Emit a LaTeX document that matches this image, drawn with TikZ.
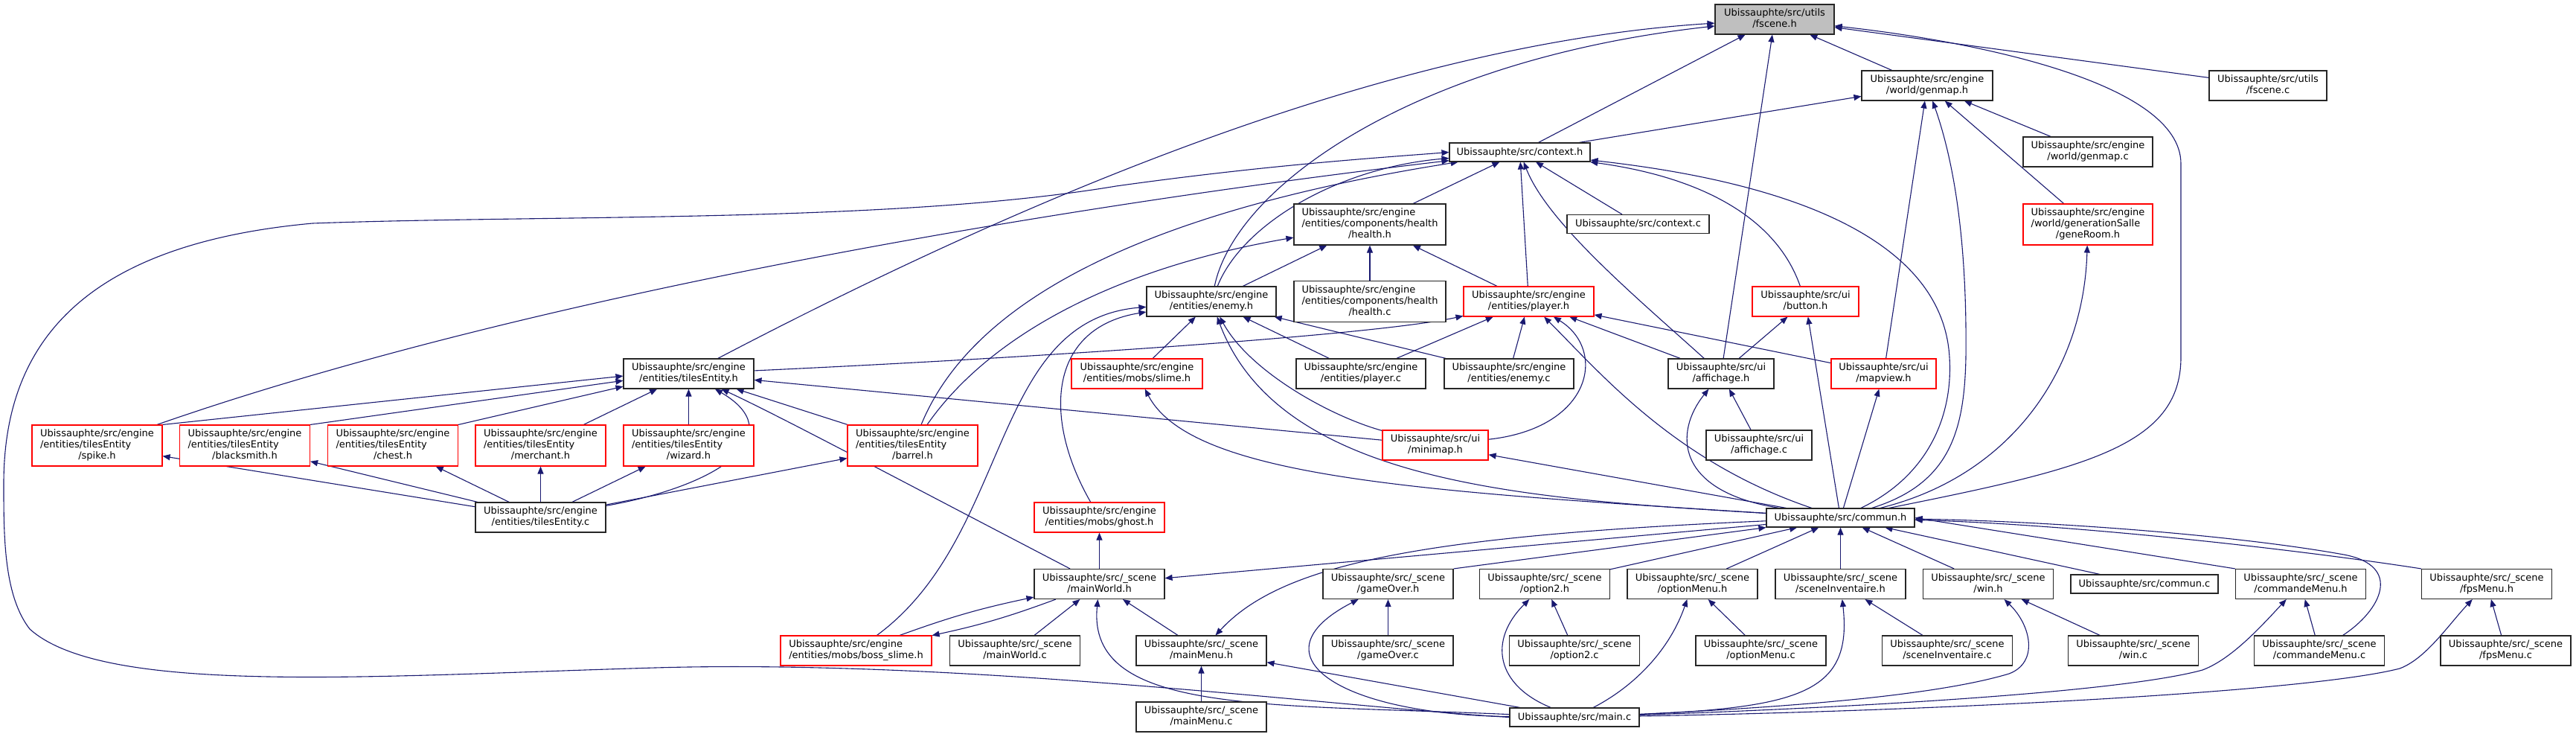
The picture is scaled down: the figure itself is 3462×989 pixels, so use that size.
\documentclass[tikz,border=0pt]{standalone}
\usepackage{fontspec}
\setmainfont{DejaVu Sans}
\usetikzlibrary{arrows.meta,backgrounds}
\definecolor{edgeblue}{HTML}{191970}
\definecolor{nodered}{HTML}{FF0000}
\definecolor{nodegrey}{HTML}{BFBFBF}
\newcommand{\dgfont}{\fontsize{13}{15}\selectfont}
\newcommand{\twol}[2]{\begin{tabular}{@{}l@{}}#1\\\multicolumn{1}{@{}c@{}}{#2}\end{tabular}}
\newcommand{\threel}[3]{\begin{tabular}{@{}l@{}}#1\\#2\\\multicolumn{1}{@{}c@{}}{#3}\end{tabular}}
\begin{document}
\begin{tikzpicture}[x=1pt,y=-1pt,
  nb/.style={draw=black!85, line width=1.1pt, fill=white, inner sep=0pt, font=\dgfont, minimum width=175, minimum height=40},
  nr/.style={nb, draw=nodered},
  ng/.style={nb, fill=nodegrey},
  dep/.style={draw=edgeblue, line width=1.1pt, -{Triangle[length=10pt,width=8pt]}}]
\path[use as bounding box] (0,0) rectangle (3462,989);
% nodes
\node[ng, minimum width=160] (fsh) at (2385,26) {\twol{Ubissauphte/src/utils}{/fscene.h}};
\node[nb, minimum width=176] (gmh) at (2590,115) {\twol{Ubissauphte/src/engine}{/world/genmap.h}};
\node[nb, minimum width=158] (fsc) at (3048,115) {\twol{Ubissauphte/src/utils}{/fscene.c}};
\node[nb, minimum width=189, minimum height=25] (ctx) at (2042.5,204.5) {Ubissauphte/src/context.h};
\node[nb, minimum width=174] (gmc) at (2806,204) {\twol{Ubissauphte/src/engine}{/world/genmap.c}};
\node[nb, minimum width=204, minimum height=55] (hlh) at (1841,301.5) {\threel{Ubissauphte/src/engine}{/entities/components/health}{/health.h}};
\node[nb, minimum width=191, minimum height=25] (ctc) at (2201.5,301) {Ubissauphte/src/context.c};
\node[nr, minimum width=174, minimum height=55] (grh) at (2806,301.5) {\threel{Ubissauphte/src/engine}{/world/generationSalle}{/geneRoom.h}};
\node[nb, minimum width=204, minimum height=55] (hlc) at (1841,405) {\threel{Ubissauphte/src/engine}{/entities/components/health}{/health.c}};
\node[nb, minimum width=174] (enh) at (1628,405) {\twol{Ubissauphte/src/engine}{/entities/enemy.h}};
\node[nr] (plh) at (2054.5,405) {\twol{Ubissauphte/src/engine}{/entities/player.h}};
\node[nr, minimum width=143] (bth) at (2426.5,405) {\twol{Ubissauphte/src/ui}{/button.h}};
\node[nb] (teh) at (925.5,502) {\twol{Ubissauphte/src/engine}{/entities/tilesEntity.h}};
\node[nr, minimum width=176] (slh) at (1528,502) {\twol{Ubissauphte/src/engine}{/entities/mobs/slime.h}};
\node[nb, minimum width=174] (plc) at (1829,502) {\twol{Ubissauphte/src/engine}{/entities/player.c}};
\node[nb, minimum width=174] (enc) at (2028,502) {\twol{Ubissauphte/src/engine}{/entities/enemy.c}};
\node[nb, minimum width=142] (afh) at (2313,502) {\twol{Ubissauphte/src/ui}{/affichage.h}};
\node[nr, minimum width=141] (mvh) at (2531.5,502) {\twol{Ubissauphte/src/ui}{/mapview.h}};
\node[nr, minimum height=55] (spk) at (130.5,598.5) {\threel{Ubissauphte/src/engine}{/entities/tilesEntity}{/spike.h}};
\node[nr, minimum height=55] (bsm) at (329,598.5) {\threel{Ubissauphte/src/engine}{/entities/tilesEntity}{/blacksmith.h}};
\node[nr, minimum height=55] (cht) at (528,598.5) {\threel{Ubissauphte/src/engine}{/entities/tilesEntity}{/chest.h}};
\node[nr, minimum height=55] (mer) at (726.5,598.5) {\threel{Ubissauphte/src/engine}{/entities/tilesEntity}{/merchant.h}};
\node[nr, minimum height=55] (wiz) at (925.5,598.5) {\threel{Ubissauphte/src/engine}{/entities/tilesEntity}{/wizard.h}};
\node[nr, minimum height=55] (brl) at (1226.5,598.5) {\threel{Ubissauphte/src/engine}{/entities/tilesEntity}{/barrel.h}};
\node[nr, minimum width=142] (mmh) at (1929,598) {\twol{Ubissauphte/src/ui}{/minimap.h}};
\node[nb, minimum width=142] (afc) at (2364,598) {\twol{Ubissauphte/src/ui}{/affichage.c}};
\node[nb] (tec) at (726.5,695) {\twol{Ubissauphte/src/engine}{/entities/tilesEntity.c}};
\node[nr] (ghh) at (1477.5,695) {\twol{Ubissauphte/src/engine}{/entities/mobs/ghost.h}};
\node[nb, minimum width=199, minimum height=25] (cmh) at (2473.5,695.5) {Ubissauphte/src/commun.h};
\node[nb] (mwh) at (1477.5,784.5) {\twol{Ubissauphte/src/\_scene}{/mainWorld.h}};
\node[nb] (goh) at (1865.5,784.5) {\twol{Ubissauphte/src/\_scene}{/gameOver.h}};
\node[nb] (o2h) at (2076,784.5) {\twol{Ubissauphte/src/\_scene}{/option2.h}};
\node[nb] (omh) at (2274.5,784.5) {\twol{Ubissauphte/src/\_scene}{/optionMenu.h}};
\node[nb] (sih) at (2473.5,784.5) {\twol{Ubissauphte/src/\_scene}{/sceneInventaire.h}};
\node[nb] (wnh) at (2672,784.5) {\twol{Ubissauphte/src/\_scene}{/win.h}};
\node[nb, minimum width=198, minimum height=25] (cmc) at (2882,784.5) {Ubissauphte/src/commun.c};
\node[nb] (cdh) at (3092,784.5) {\twol{Ubissauphte/src/\_scene}{/commandeMenu.h}};
\node[nb] (fph) at (3342,784.5) {\twol{Ubissauphte/src/\_scene}{/fpsMenu.h}};
\node[nr, minimum width=203] (bsl) at (1150.5,874) {\twol{Ubissauphte/src/engine}{/entities/mobs/boss\_slime.h}};
\node[nb] (mwc) at (1364,874) {\twol{Ubissauphte/src/\_scene}{/mainWorld.c}};
\node[nb] (mnh) at (1614.5,874) {\twol{Ubissauphte/src/\_scene}{/mainMenu.h}};
\node[nb] (goc) at (1865.5,874) {\twol{Ubissauphte/src/\_scene}{/gameOver.c}};
\node[nb] (o2c) at (2116,874) {\twol{Ubissauphte/src/\_scene}{/option2.c}};
\node[nb] (omc) at (2366.5,874) {\twol{Ubissauphte/src/\_scene}{/optionMenu.c}};
\node[nb] (sic) at (2617,874) {\twol{Ubissauphte/src/\_scene}{/sceneInventaire.c}};
\node[nb] (wnc) at (2867,874) {\twol{Ubissauphte/src/\_scene}{/win.c}};
\node[nb] (cdc) at (3117,874) {\twol{Ubissauphte/src/\_scene}{/commandeMenu.c}};
\node[nb] (fpc) at (3367.5,874) {\twol{Ubissauphte/src/\_scene}{/fpsMenu.c}};
\node[nb] (mnc) at (1614.5,963) {\twol{Ubissauphte/src/\_scene}{/mainMenu.c}};
\node[nb, minimum width=174, minimum height=25] (mainc) at (2116,963.5) {Ubissauphte/src/main.c};
\begin{scope}[on background layer]
\fill[white] (0,0) rectangle (3462,989);
% edges to fscene.h
\draw[dep] (teh) .. controls (1350,280) and (1850,60) .. (fsh);
\draw[dep] (enh) .. controls (1660,250) and (1900,80) .. (fsh);
\draw[dep] (ctx) -- (fsh);
\draw[dep] (afh) -- (fsh);
\draw[dep] (gmh) -- (fsh);
\draw[dep] (fsc) -- (fsh);
\draw[dep] (cmh) .. controls (2800,630) and (2931,600) .. (2931,480) -- (2931,220) .. controls (2931,110) and (2650,55) .. (fsh);
% genmap.h
\draw[dep] (ctx) -- (gmh);
\draw[dep] (gmc) -- (gmh);
\draw[dep] (grh) -- (gmh);
\draw[dep] (mvh) -- (gmh);
\draw[dep] (cmh) .. controls (2620,650) and (2640,580) .. (2642,480) .. controls (2644,300) and (2620,200) .. (gmh);
% context.h
\draw[dep] (hlh) -- (ctx);
\draw[dep] (plh) -- (ctx);
\draw[dep] (ctc) -- (ctx);
\draw[dep] (afh) .. controls (2200,400) and (2080,300) .. (ctx);
\draw[dep] (bth) .. controls (2390,300) and (2300,240) .. (ctx);
\draw[dep] (cmh) .. controls (2590,640) and (2625,560) .. (2620,480) .. controls (2612,340) and (2450,250) .. (ctx);
\draw[dep] (mainc.west) .. controls (1800,950) and (1300,885) .. (880,897) .. controls (500,908) and (140,935) .. (40,845) .. controls (5,800) and (5,720) .. (5,650) .. controls (5,480) and (90,330) .. (420,300) .. controls (750,288) and (1200,300) .. (1500,250) .. controls (1700,222) and (1850,212) .. (ctx.west);
\draw[dep] (spk) .. controls (700,400) and (1400,280) .. (ctx);
\draw[dep] (brl) .. controls (1300,420) and (1500,290) .. (ctx);
\draw[dep] (enh) .. controls (1670,300) and (1800,225) .. (ctx);
% health.h
\draw[dep] (enh) -- (hlh);
\draw[dep] (brl) .. controls (1330,450) and (1500,360) .. (hlh);
\draw[dep] (hlc) -- (hlh);
\draw[dep] (plh) -- (hlh);
% enemy.h
\draw[dep] (slh) -- (enh);
\draw[dep] (plc) -- (enh);
\draw[dep] (enc) -- (enh);
\draw[dep] (bsl) .. controls (1360,720) and (1330,430) .. (enh);
\draw[dep] (ghh) .. controls (1400,560) and (1410,440) .. (enh);
\draw[dep] (mmh) .. controls (1790,560) and (1680,500) .. (enh);
\draw[dep] (cmh) .. controls (2050,670) and (1720,650) .. (enh);
\draw[dep] (cmh) .. controls (1900,660) and (1600,640) .. (slh);
% player.h
\draw[dep] (teh) .. controls (1400,480) and (1850,450) .. (plh);
\draw[dep] (plc) -- (plh);
\draw[dep] (enc) -- (plh);
\draw[dep] (mmh) .. controls (2140,575) and (2160,470) .. (plh);
\draw[dep] (cmh) .. controls (2250,620) and (2150,500) .. (plh);
\draw[dep] (afh) -- (plh);
\draw[dep] (mvh) -- (plh);
% button.h, affichage.h, mapview.h, minimap.h
\draw[dep] (afh) -- (bth);
\draw[dep] (cmh) -- (bth);
\draw[dep] (afc) -- (afh);
\draw[dep] (cmh) .. controls (2250,660) and (2250,580) .. (afh);
\draw[dep] (cmh) -- (mvh);
\draw[dep] (cmh) -- (mmh);
% tilesEntity.h
\draw[dep] (spk.north east) -- (teh.182);
\draw[dep] (bsm.north east) -- (teh.186);
\draw[dep] (cht.north east) -- (teh.191);
\draw[dep] (mer) -- (teh);
\draw[dep] (wiz) -- (teh);
\draw[dep] (brl) -- (teh);
\draw[dep] (tec) .. controls (980,650) and (1060,580) .. (teh);
\draw[dep] (mwh) .. controls (1200,640) and (1050,560) .. (teh);
\draw[dep] (mmh) -- (teh);
% tilesEntity.c
\draw[dep] (tec) -- (spk);
\draw[dep] (tec) -- (bsm);
\draw[dep] (tec) -- (cht);
\draw[dep] (tec) -- (mer);
\draw[dep] (tec) -- (wiz);
\draw[dep] (tec) -- (brl);
% ghost, mainWorld, boss_slime
\draw[dep] (mwh) -- (ghh);
\draw[dep] (bsl) to[bend left=4] (mwh);
\draw[dep] (mwh) to[bend left=4] (bsl);
\draw[dep] (mwc) -- (mwh);
\draw[dep] (mnh) -- (mwh);
\draw[dep] (mainc) .. controls (1700,945) and (1460,960) .. (mwh);
\draw[dep] (cmh) -- (mwh);
% mainMenu
\draw[dep] (mnc) -- (mnh);
\draw[dep] (mainc) -- (mnh);
\draw[dep] (cmh) .. controls (1900,720) and (1720,760) .. (mnh);
% scenes
\draw[dep] (goh.north east) -- (cmh.south west);
\draw[dep] (goc) -- (goh);
\draw[dep] (mainc) .. controls (1800,960) and (1680,880) .. (goh);
\draw[dep] (o2h) -- (cmh);
\draw[dep] (o2c) -- (o2h);
\draw[dep] (mainc) .. controls (2010,920) and (2000,860) .. (o2h);
\draw[dep] (omh) -- (cmh);
\draw[dep] (omc) -- (omh);
\draw[dep] (mainc) .. controls (2200,920) and (2245,870) .. (omh);
\draw[dep] (sih) -- (cmh);
\draw[dep] (sic) -- (sih);
\draw[dep] (mainc) .. controls (2420,950) and (2490,930) .. (sih);
\draw[dep] (wnh) -- (cmh);
\draw[dep] (wnc) -- (wnh);
\draw[dep] (mainc) .. controls (2400,950) and (2600,935) .. (2700,905) .. controls (2740,890) and (2730,840) .. (wnh);
\draw[dep] (cmc) -- (cmh);
\draw[dep] (cdh.north west) -- (cmh.east);
\draw[dep] (cdc) -- (cdh);
\draw[dep] (mainc) .. controls (2500,950) and (2850,930) .. (2960,900) .. controls (3000,885) and (3040,840) .. (cdh);
\draw[dep] (cdc) .. controls (3200,820) and (3230,760) .. (3150,745) .. controls (3000,718) and (2750,700) .. (cmh);
\draw[dep] (fph.north west) .. controls (3100,740) and (2800,705) .. (cmh);
\draw[dep] (fpc) -- (fph);
\draw[dep] (mainc) .. controls (2600,955) and (3100,930) .. (3225,898) .. controls (3260,885) and (3290,840) .. (fph);
% geneRoom
\draw[dep] (cmh) .. controls (2700,640) and (2800,500) .. (grh);
\end{scope}
\end{tikzpicture}
\end{document}
